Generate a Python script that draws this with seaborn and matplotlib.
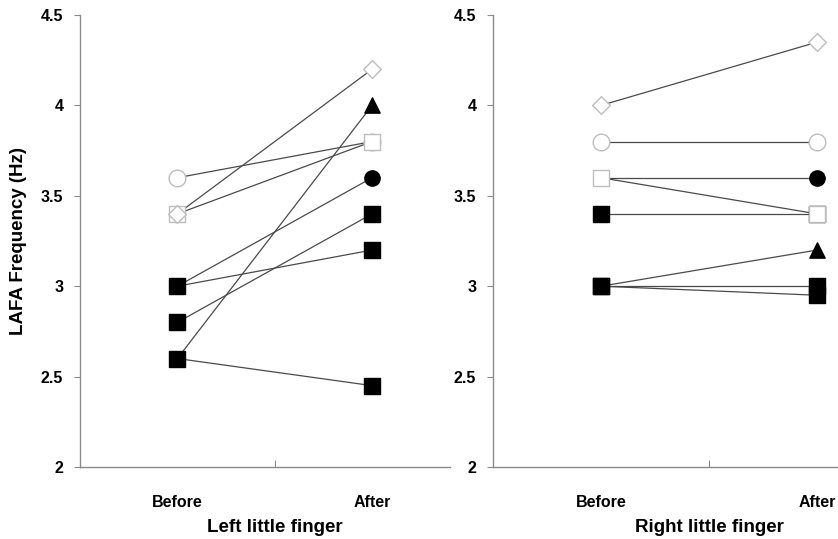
import matplotlib
matplotlib.use("Agg")
import matplotlib.pyplot as plt
import seaborn as sns
import pandas as pd

# categories and subjects (drawing order: later ones sit on top)
phases = ["Before", "After"]
subjects = ["tri", "fcircle", "sqA", "sqB", "sqC", "ocircle", "osquare", "odiamond"]

left_before = [2.6, 3.0, 3.0, 2.8, 2.6, 3.6, 3.4, 3.4]
left_after = [4.0, 3.6, 3.2, 3.4, 2.45, 3.8, 3.8, 4.2]
right_before = [3.0, 3.6, 3.4, 3.0, 3.0, 3.8, 3.6, 4.0]
right_after = [3.2, 3.6, 3.4, 3.0, 2.95, 3.8, 3.4, 4.35]

panel_titles = ["Left little finger", "Right little finger"]
y_ticks = [2, 2.5, 3, 3.5, 4, 4.5]
y_ticklabels = ["2", "2.5", "3", "3.5", "4", "4.5"]

# marker styles per subject
marker_shape = {"tri": "^", "fcircle": "o", "sqA": "s", "sqB": "s", "sqC": "s",
                "ocircle": "o", "osquare": "s", "odiamond": "D"}
marker_size = {"tri": 11, "fcircle": 11, "sqA": 11, "sqB": 11, "sqC": 11,
               "ocircle": 12, "osquare": 11, "odiamond": 9}
open_markers = {"ocircle", "osquare", "odiamond"}


def make_frame(before, after):
    rows = []
    for s, b, a in zip(subjects, before, after):
        rows.append({"subject": s, "pos": phases.index("Before"), "freq": b})
        rows.append({"subject": s, "pos": phases.index("After"), "freq": a})
    return pd.DataFrame(rows)


sns.set_style("white")
plt.rcParams["font.family"] = ["Liberation Sans", "DejaVu Sans"]
plt.rcParams["font.weight"] = "bold"
plt.rcParams["text.color"] = "black"
plt.rcParams["axes.labelcolor"] = "black"
plt.rcParams["xtick.color"] = "black"
plt.rcParams["ytick.color"] = "black"

fig = plt.figure(figsize=(8.38, 5.39), dpi=100)
ax_left = fig.add_axes([80 / 838, 72 / 539, 370 / 838, 452 / 539])
ax_right = fig.add_axes([493 / 838, 72 / 539, 350 / 838, 452 / 539])

panels = [
    (ax_left, make_frame(left_before, left_after), (-0.5, 1.4)),
    (ax_right, make_frame(right_before, right_after), (-0.5, 1.12)),
]

for i, (ax, df, xlim) in enumerate(panels):
    # connecting lines
    sns.lineplot(data=df, x="pos", y="freq", units="subject", estimator=None,
                 color="#4a4a4a", linewidth=0.9, ax=ax, zorder=2, legend=False)
    # markers
    for k, s in enumerate(subjects):
        sub = df[df["subject"] == s]
        if s in open_markers:
            fc, ec = "white", "#bdbdbd"
        else:
            fc, ec = "black", "black"
        sns.scatterplot(data=sub, x="pos", y="freq", marker=marker_shape[s],
                        s=marker_size[s] ** 2, facecolor=fc, edgecolor=ec,
                        linewidth=1.0, ax=ax, zorder=3 + k * 0.1, legend=False)

    ax.set_xlim(*xlim)
    ax.set_ylim(2, 4.5)
    ax.set_yticks(y_ticks)
    ax.set_yticklabels(y_ticklabels, fontsize=11.5, fontweight="bold")
    ax.set_xticks([0, 1])
    ax.set_xticklabels(phases, fontsize=11.5, fontweight="bold")
    ax.set_xticks([0.5], minor=True)
    ax.tick_params(axis="x", which="major", bottom=True, length=0, pad=20)
    ax.tick_params(axis="x", which="minor", bottom=True, length=5, direction="in",
                   color="#8a8a8a", width=0.8)
    ax.tick_params(axis="y", which="major", left=True, length=4, direction="out",
                   color="#8a8a8a", width=0.8, pad=8, labelcolor="black")

    for side in ["top", "right"]:
        ax.spines[side].set_visible(False)
    for side in ["left", "bottom"]:
        ax.spines[side].set_color("#8a8a8a")
        ax.spines[side].set_linewidth(1.0)

    ax.set_xlabel(panel_titles[i], fontsize=13.5, fontweight="bold", labelpad=12)
    ax.xaxis.set_label_coords((0.5 - xlim[0]) / (xlim[1] - xlim[0]), -0.115)
    ax.set_ylabel("")

ax_left.set_ylabel("LAFA Frequency (Hz)", fontsize=13.5, fontweight="bold", labelpad=10)

fig.savefig("out.png", dpi=100)
plt.close(fig)
